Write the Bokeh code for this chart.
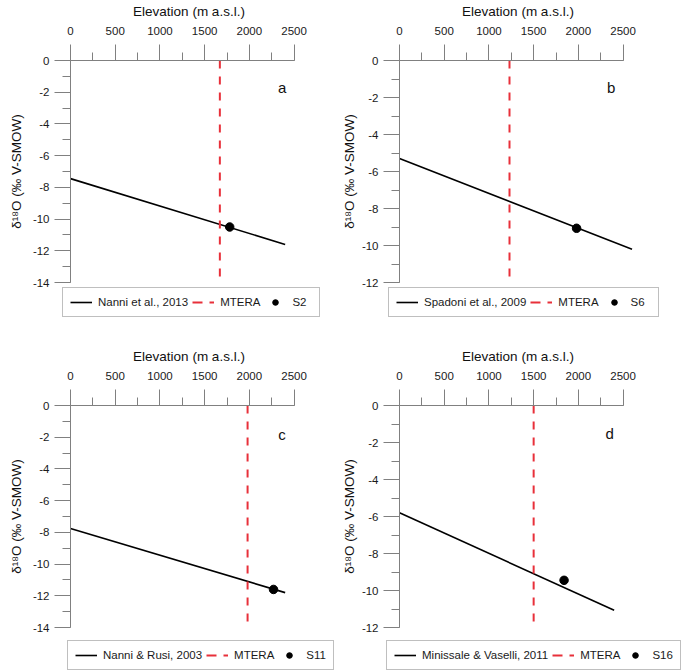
from bokeh.plotting import figure
from bokeh.models import Range1d, SingleIntervalTicker, Legend, LegendItem, Label, Spacer
from bokeh.layouts import row, column
from bokeh.embed import file_html
from bokeh.resources import INLINE

# ---------------- data ----------------
panels = ["a", "b", "c", "d"]
line_labels = ["Nanni et al., 2013", "Spadoni et al., 2009",
               "Nanni & Rusi, 2003", "Minissale & Vaselli, 2011"]
sample_labels = ["S2", "S6", "S11", "S16"]
y_min = [-14, -12, -14, -12]
x_ticks = [0, 500, 1000, 1500, 2000, 2500]

# regression line: elevation (m) -> delta18O
line_x_start = [0, 0, 0, 0]
line_x_end = [2400, 2600, 2400, 2400]
line_y_start = [-7.45, -5.3, -7.75, -5.8]
line_y_end = [-11.6, -10.2, -11.8, -11.07]

# MTERA (mean elevation of recharge area)
mtera_x = [1670, 1230, 1980, 1500]
mtera_y_top = [0, 0, 0, 0]
mtera_y_bottom = [-13.8, -11.8, -13.8, -11.8]

# sample points
sample_x = [1780, 1980, 2270, 1840]
sample_y = [-10.5, -9.07, -11.6, -9.45]

# panel letter positions (data units)
letter_x = [2366, 2366, 2366, 2351]
letter_y = [-1.7, -1.45, -1.82, -1.5]

FONT = "Liberation Sans"
AXIS_COL = "#808080"
RED = "#e8303a"
FRAME_W = 237
FRAME_H = 223
LEG_H = 30

LINE_STYLE = dict(line_color="black", line_width=1.6)
MT_STYLE = dict(line_color=RED, line_width=2, line_dash="8 8")
MT_LEG_STYLE = dict(line_color=RED, line_width=2, line_dash="10 7")
PT_STYLE = dict(size=8.5, fill_color="black", line_color="black")


def make_plot(i, width, mb_left, mb_top, gap, ylab_standoff):
    height = mb_top + FRAME_H + gap
    p = figure(width=width, height=height,
               x_range=Range1d(0, 2650), y_range=Range1d(y_min[i], 0),
               x_axis_location="above",
               output_backend="svg", toolbar_location=None,
               min_border_left=mb_left, min_border_right=width - mb_left - FRAME_W,
               min_border_top=mb_top, min_border_bottom=gap)
    p.outline_line_color = None
    p.xgrid.visible = False
    p.ygrid.visible = False
    p.background_fill_color = "white"
    p.border_fill_color = "white"

    y_ticks = list(range(y_min[i], 1, 2))
    p.xaxis.bounds = (0, 2500)
    p.xaxis.ticker = SingleIntervalTicker(interval=500, num_minor_ticks=2)
    p.yaxis.ticker = SingleIntervalTicker(interval=2, num_minor_ticks=2)
    p.xaxis.major_label_overrides = {t: str(t) for t in x_ticks}
    p.yaxis.major_label_overrides = {t: str(t) for t in y_ticks}
    for ax in (p.xaxis[0], p.yaxis[0]):
        ax.axis_line_color = AXIS_COL
        ax.axis_line_width = 1
        ax.major_tick_line_color = AXIS_COL
        ax.minor_tick_line_color = AXIS_COL
        ax.major_tick_out = 16
        ax.major_tick_in = 0
        ax.minor_tick_out = 8
        ax.minor_tick_in = 0
        ax.major_label_text_font = FONT
        ax.major_label_text_font_size = "11.5px"
        ax.major_label_text_color = "#1a1a1a"
        ax.axis_label_text_font = FONT
        ax.axis_label_text_font_size = "13.5px"
        ax.axis_label_text_font_style = "normal"
        ax.axis_label_text_color = "#111111"
    p.xaxis.axis_label = "Elevation (m a.s.l.)"
    p.xaxis.major_label_standoff = 10
    p.xaxis.axis_label_standoff = 5
    p.yaxis.axis_label = "δ¹⁸O (‰ V-SMOW)"
    p.yaxis.major_label_standoff = 5
    p.yaxis.axis_label_standoff = ylab_standoff

    p.line([line_x_start[i], line_x_end[i]], [line_y_start[i], line_y_end[i]], **LINE_STYLE)
    p.line([mtera_x[i], mtera_x[i]], [mtera_y_top[i], mtera_y_bottom[i]], **MT_STYLE)
    p.scatter([sample_x[i]], [sample_y[i]], **PT_STYLE)

    p.add_layout(Label(x=letter_x[i], y=letter_y[i], text=panels[i],
                       text_font=FONT, text_font_size="15px",
                       text_align="center", text_baseline="middle",
                       text_color="#111111"))
    return p


def make_legend(i, width):
    # separate strip holding the legend; its view range lies away from the data,
    # so only the legend itself is visible
    lf = figure(width=width, height=LEG_H, x_range=Range1d(-2, -1), y_range=Range1d(1, 2),
                x_axis_location=None, y_axis_location=None,
                output_backend="svg", toolbar_location=None,
                min_border=0, min_border_left=0, min_border_right=0,
                min_border_top=0, min_border_bottom=0)
    lf.outline_line_color = None
    lf.grid.visible = False
    lf.background_fill_color = "white"
    lf.border_fill_color = "white"
    r_line = lf.line([line_x_start[i], line_x_end[i]], [line_y_start[i], line_y_end[i]],
                     **LINE_STYLE)
    r_mt = lf.line([mtera_x[i], mtera_x[i]], [mtera_y_top[i], mtera_y_bottom[i]],
                   **MT_LEG_STYLE)
    r_pt = lf.scatter([sample_x[i]], [sample_y[i]], **PT_STYLE)
    legend = Legend(items=[LegendItem(label=line_labels[i], renderers=[r_line]),
                           LegendItem(label="MTERA", renderers=[r_mt]),
                           LegendItem(label=sample_labels[i], renderers=[r_pt])],
                    location="top_left", orientation="horizontal",
                    border_line_color=AXIS_COL, border_line_width=1,
                    background_fill_color="white", background_fill_alpha=1,
                    label_text_font=FONT, label_text_font_size="11.5px",
                    label_text_color="#1a1a1a",
                    glyph_width=22, glyph_height=14, label_height=14,
                    label_standoff=6, spacing=4, padding=7, margin=0)
    lf.add_layout(legend, "center")
    return lf


def make_panel(i, width, total_h, mb_left, gap, leg_left, ylab_standoff):
    p = make_plot(i, width, mb_left, 59, gap, ylab_standoff)
    lf = make_legend(i, width - leg_left)
    rest = total_h - p.height - LEG_H
    items = [p, row(Spacer(width=leg_left, height=LEG_H), lf)]
    if rest > 0:
        items.append(Spacer(width=width, height=rest))
    return column(*items)


WA = 335
WB = 684 - WA
pa = make_panel(0, WA, 345, 70, 5, 62, 6)
pb = make_panel(1, WB, 345, 64, 5, 53, 2)
pc = make_panel(2, WA, 325, 70, 13, 67, 6)
pd = make_panel(3, WB, 325, 64, 13, 51, 2)

layout = column(row(pa, pb), row(pc, pd))

open("out.html", "w").write(file_html(layout, INLINE))
